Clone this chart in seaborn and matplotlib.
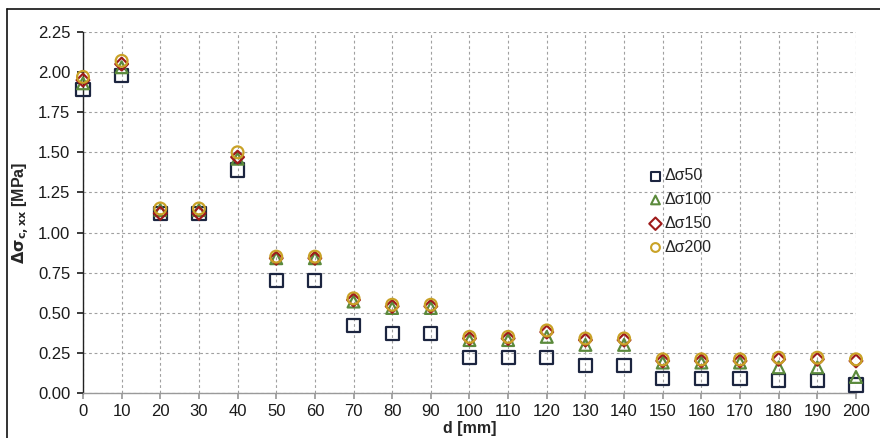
import matplotlib
matplotlib.use("Agg")
import matplotlib.pyplot as plt
from matplotlib.lines import Line2D
import numpy as np
import pandas as pd
import seaborn as sns

# Distance from the reference point [mm]
d_mm = [0, 10, 20, 30, 40, 50, 60, 70, 80, 90, 100, 110, 120, 130, 140,
        150, 160, 170, 180, 190, 200]

# Stress increments for each load level [MPa]
ds50 = [1.89, 1.98, 1.12, 1.12, 1.39, 0.70, 0.70, 0.42, 0.37, 0.37, 0.22,
        0.22, 0.22, 0.17, 0.17, 0.09, 0.09, 0.09, 0.08, 0.08, 0.05]
ds100 = [1.93, 2.03, 1.14, 1.14, 1.46, 0.84, 0.84, 0.57, 0.53, 0.53, 0.33,
         0.33, 0.35, 0.30, 0.30, 0.19, 0.19, 0.19, 0.16, 0.16, 0.10]
ds150 = [1.95, 2.05, 1.12, 1.12, 1.47, 0.84, 0.84, 0.58, 0.54, 0.54, 0.34,
         0.34, 0.38, 0.33, 0.33, 0.20, 0.20, 0.20, 0.21, 0.21, 0.20]
ds200 = [1.97, 2.07, 1.15, 1.15, 1.50, 0.85, 0.85, 0.59, 0.55, 0.55, 0.35,
         0.35, 0.39, 0.34, 0.34, 0.21, 0.21, 0.21, 0.22, 0.22, 0.21]

series_names = ["Δσ50", "Δσ100", "Δσ150", "Δσ200"]
x_ticks = list(range(0, 201, 10))
y_ticks = [0.00, 0.25, 0.50, 0.75, 1.00, 1.25, 1.50, 1.75, 2.00, 2.25]

df = pd.concat([
    pd.DataFrame({"d": d_mm, "val": v, "series": n})
    for n, v in zip(series_names, [ds50, ds100, ds150, ds200])
], ignore_index=True)

sns.set_theme(style="white")
plt.rcParams["font.family"] = ["Liberation Sans", "DejaVu Sans"]

fig = plt.figure(figsize=(8.8, 4.38), dpi=100)
ax = fig.add_axes([0.0943, 0.1027, 0.8784, 0.8243])

palette = {"Δσ50": "#1c2540", "Δσ100": "#5b8a3c",
           "Δσ150": "#9e1b1b", "Δσ200": "#c9a227"}
markers = {"Δσ50": "s", "Δσ100": "^", "Δσ150": "D", "Δσ200": "o"}
sizes = {"Δσ50": 9.5, "Δσ100": 8.5, "Δσ150": 6.5, "Δσ200": 8.5}

for name in series_names:
    sub = df[df["series"] == name]
    sns.scatterplot(data=sub, x="d", y="val", ax=ax, marker=markers[name],
                    s=sizes[name] ** 2, facecolors="none",
                    edgecolor=palette[name], linewidth=1.6, label=name,
                    zorder=3, clip_on=False)

ax.set_xlim(0, 200)
ax.set_ylim(0, 2.25)
ax.set_xticks(x_ticks)
ax.set_yticks(y_ticks)
ax.set_yticklabels([f"{t:.2f}" for t in y_ticks])
ax.grid(True, color="#a0a0a0", linestyle=(0, (2.5, 2.5)), linewidth=0.8)
ax.set_axisbelow(True)

for side in ["top", "right"]:
    ax.spines[side].set_visible(False)
ax.spines["left"].set_color("#222222")
ax.spines["left"].set_linewidth(1.0)
ax.spines["bottom"].set_color("#9a9a9a")
ax.spines["bottom"].set_linewidth(1.0)

ax.tick_params(axis="y", which="both", left=True, direction="out", length=4,
               color="#222222", labelsize=12, labelcolor="#1a1a1a", pad=5)
ax.tick_params(axis="x", which="both", bottom=True, direction="out", length=4,
               color="#9a9a9a", labelsize=12, labelcolor="#1a1a1a", pad=4)

ax.set_xlabel("d [mm]", fontsize=11.5, fontweight="bold", labelpad=1)
ax.set_ylabel(r"$\mathbf{\Delta\sigma_{c,xx}}$ [MPa]", fontsize=11.5,
              fontweight="bold", labelpad=4)

leg = ax.legend(loc="upper left", bbox_to_anchor=(0.722, 0.64), frameon=False,
                fontsize=11.5, handletextpad=0.05, handlelength=1.0,
                labelspacing=0.55, borderaxespad=0)
for h in leg.legend_handles:
    h.set_sizes([40])
    h.set_linewidth(1.5)

# Frame lines along the top and left edges of the figure
fig.add_artist(Line2D([7 / 880, 1.0], [1 - 9 / 438, 1 - 9 / 438],
                      transform=fig.transFigure, color="#111111", lw=1.2))
fig.add_artist(Line2D([7 / 880, 7 / 880], [0.0, 1 - 9 / 438],
                      transform=fig.transFigure, color="#111111", lw=1.2))

fig.savefig("out.png", dpi=100)
